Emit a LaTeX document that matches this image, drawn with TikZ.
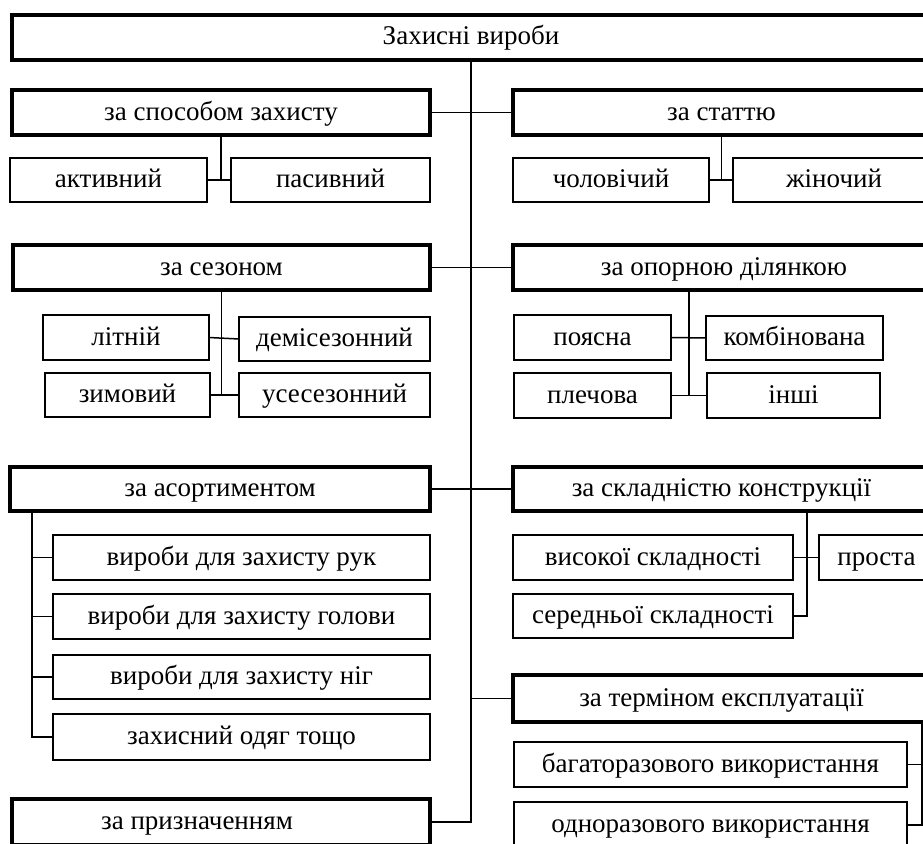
\documentclass[tikz,border=0pt]{standalone}
\usepackage{fontspec}
\setmainfont{Liberation Serif}
\newcommand\bx[7]{\node[#1,minimum width={(#4)-(#2)},minimum height={(#5)-(#3)}] (#6) at (#2,#3) {#7};}
\begin{document}
\begin{tikzpicture}[x=1pt,y=-1pt,
  base/.style={draw=black, fill=white, inner sep=0pt, outer sep=0pt, anchor=north west,
    text height=20pt, text depth=5pt, font=\fontsize{27}{31}\selectfont},
  topbox/.style={base, line width=4.2pt},
  cat/.style={base, line width=3.8pt},
  sub/.style={base, line width=2.3pt},
  subb/.style={base, line width=2.9pt},
  conn/.style={line width=1.5pt}]
\useasboundingbox (0,0) rectangle (923,843);
\clip (0,0) rectangle (923,843);
% main
\bx{topbox}{12}{15}{930}{60}{top}{Захисні вироби}
% left column
\bx{cat}{12}{90}{430}{135}{zasob}{за способом захисту}
\bx{sub}{10}{158}{207}{202}{aktyv}{активний}
\bx{sub}{231}{158}{430}{202}{pasyv}{пасивний}
\bx{cat}{13}{245}{430}{290}{sezon}{за сезоном}
\bx{subb}{43}{315}{209}{360}{litn}{літній}
\bx{sub}{239}{317}{430}{361}{demi}{демісезонний}
\bx{sub}{45}{373}{210}{417}{zymov}{зимовий}
\bx{sub}{239}{373}{430}{417}{usez}{усесезонний}
\bx{cat}{10}{467}{430}{511}{asort}{за асортиментом}
\bx{sub}{53}{535}{430}{580}{ruk}{вироби для захисту рук}
\bx{sub}{53}{594}{430}{639}{golov}{вироби для захисту голови}
\bx{sub}{53}{655}{430}{699}{nig}{вироби для захисту ніг}
\bx{subb}{53}{714}{430}{760}{odyag}{захисний одяг тощо}
\bx{cat}{12}{799}{430}{845}{pryzn}{\hspace*{-48pt}за призначенням}
% right column
\bx{cat}{513}{90}{930}{135}{stat}{за статтю}
\bx{sub}{513}{158}{709}{202}{cholov}{чоловічий}
\bx{sub}{733}{158}{935}{202}{zhin}{жіночий}
\bx{cat}{513}{245}{935}{290}{opor}{за опорною ділянкою}
\bx{sub}{514}{315}{671}{360}{poyas}{поясна}
\bx{subb}{706}{316}{883}{360}{kombi}{комбінована}
\bx{subb}{514}{373}{671}{418}{plech}{плечова}
\bx{subb}{707}{373}{880}{418}{inshi}{інші}
\bx{cat}{513}{467}{930}{511}{sklad}{за складністю конструкції}
\bx{sub}{513}{535}{793}{580}{vysok}{високої складності}
\bx{subb}{819}{535}{934}{580}{prost}{проста}
\bx{sub}{513}{594}{793}{638}{sered}{середньої складності}
\bx{cat}{513}{675}{930}{722}{termin}{за терміном експлуатації}
\bx{subb}{514}{742}{907}{787}{bagat}{багаторазового використання}
\bx{subb}{514}{802}{907}{848}{odnor}{одноразового використання}
% trunk
\coordinate (trunkend) at (471,822);
\draw[conn] (top.south) -- (trunkend) -- (pryzn.east);
\draw[conn] (zasob.east) -- (stat.west);
\draw[conn] (sezon.east) -- (opor.west);
\draw[conn] (asort.east) -- (sklad.west);
\draw[conn] (top.south |- termin.west) -- (termin.west);
% за способом захисту
\draw[conn] (zasob.south) -- (zasob.south |- aktyv.east);
\draw[conn] (aktyv.east) -- (pasyv.west);
% за статтю
\draw[conn] (stat.south) -- (stat.south |- cholov.east);
\draw[conn] (cholov.east) -- (zhin.west);
% за сезоном
\draw[conn] (sezon.south) -- (sezon.south |- zymov.east);
\draw[conn] (litn.east) -- (demi.west);
\draw[conn] (zymov.east) -- (usez.west);
% за опорною ділянкою
\coordinate (opx) at (689,290);
\draw[conn] (opx) -- (opx |- plech.east);
\draw[conn] (poyas.east) -- (kombi.west);
\draw[conn] (plech.east) -- (inshi.west);
% за асортиментом
\coordinate (asx) at (32,511);
\draw[conn] (asx) -- (asx |- odyag.west) -- (odyag.west);
\draw[conn] (asx |- ruk.west) -- (ruk.west);
\draw[conn] (asx |- golov.west) -- (golov.west);
\draw[conn] (asx |- nig.west) -- (nig.west);
% за складністю конструкції
\coordinate (skx) at (807,511);
\draw[conn] (skx) -- (skx |- sered.east) -- (sered.east);
\draw[conn] (vysok.east) -- (prost.west);
% за терміном експлуатації
\coordinate (tx) at (922,722);
\draw[conn] (tx) -- (tx |- odnor.east) -- (odnor.east);
\draw[conn] (bagat.east) -- (tx |- bagat.east);
\end{tikzpicture}
\end{document}
